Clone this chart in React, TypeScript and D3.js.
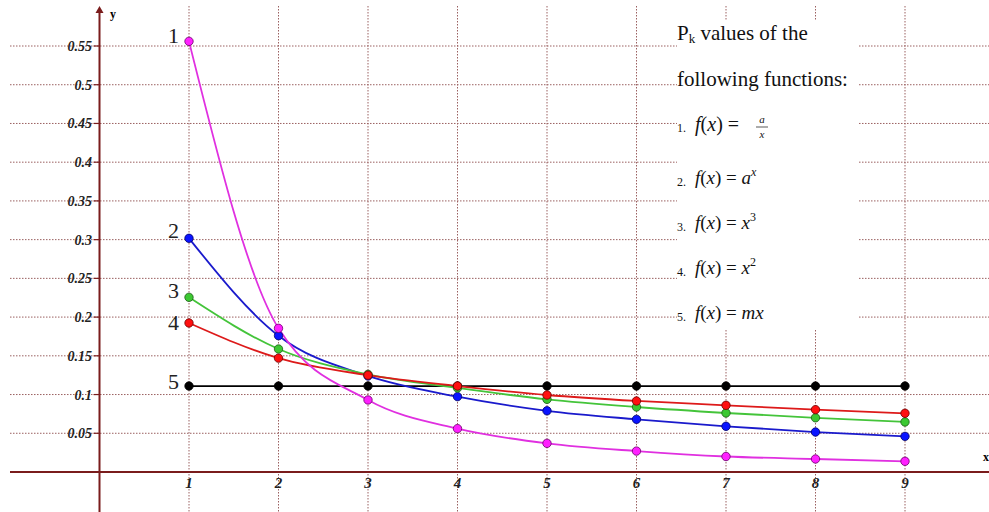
import React from "react";
import * as d3 from "d3";

const xs = [1, 2, 3, 4, 5, 6, 7, 8, 9];
const s1 = [0.556, 0.1855, 0.093, 0.056, 0.037, 0.027, 0.02, 0.0168, 0.0138];
const s2 = [0.3017, 0.176, 0.124, 0.0973, 0.079, 0.068, 0.059, 0.0516, 0.046];
const s3 = [0.2255, 0.1588, 0.126, 0.1085, 0.0938, 0.0839, 0.0762, 0.07, 0.0646];
const s4 = [0.1924, 0.147, 0.125, 0.111, 0.0994, 0.0917, 0.0861, 0.0805, 0.0758];
const s5 = [0.111, 0.111, 0.111, 0.111, 0.111, 0.111, 0.111, 0.111, 0.111];
const yTicks = [0.05, 0.1, 0.15, 0.2, 0.25, 0.3, 0.35, 0.4, 0.45, 0.5, 0.55];
const yTickLabels = ["0.05", "0.1", "0.15", "0.2", "0.25", "0.3", "0.35", "0.4", "0.45", "0.5", "0.55"];
const xTickLabels = ["1", "2", "3", "4", "5", "6", "7", "8", "9"];
const seriesLabels = ["1", "2", "3", "4", "5"];

const series = [
  { id: "5", vals: s5, stroke: "#000000", fill: "#000000", dot: "#000000" },
  { id: "2", vals: s2, stroke: "#1a1acc", fill: "#0a14ff", dot: "#00006a" },
  { id: "3", vals: s3, stroke: "#44c43a", fill: "#3cc832", dot: "#1d5a18" },
  { id: "4", vals: s4, stroke: "#dd1a1a", fill: "#ff1010", dot: "#6a0000" },
  { id: "1", vals: s1, stroke: "#e030e0", fill: "#ff20ff", dot: "#6a006a" },
];

const W = 989;
const H = 512;
const axisColor = "#7a1c1c";
const gridColor = "#9a6060";
const serif = "'Liberation Serif', 'Times New Roman', serif";

export default function App() {
  const x = d3.scaleLinear().domain([0, 9]).range([99.5, 905]);
  const y = d3.scaleLinear().domain([0, 0.55]).range([472, 46]);
  const line = d3
    .line<number>()
    .x((_, i) => x(xs[i]))
    .y((v) => y(v))
    .curve(d3.curveMonotoneX);

  const labelOffsets: Record<string, number> = { "1": -1, "2": -3, "3": -2, "4": 5, "5": 1 };

  return (
    <svg
      width={W}
      height={H}
      style={{ position: "absolute", left: 0, top: 0, background: "#fff" }}
      xmlns="http://www.w3.org/2000/svg"
    >
      <rect x={0} y={0} width={W} height={H} fill="#fff" />
      {/* horizontal grid */}
      {yTicks.map((t) => (
        <line
          key={"hg" + t}
          x1={10}
          x2={W}
          y1={y(t)}
          y2={y(t)}
          stroke={gridColor}
          strokeWidth={1}
          strokeDasharray="1.5,1.5"
        />
      ))}
      {/* vertical grid */}
      {xs.map((t) => (
        <line
          key={"vg" + t}
          x1={x(t)}
          x2={x(t)}
          y1={6}
          y2={H}
          stroke={gridColor}
          strokeWidth={1}
          strokeDasharray="1.5,1.5"
        />
      ))}
      {/* legend box (white) */}
      <rect x={677} y={20} width={181} height={310} fill="#fff" />

      {/* axes */}
      <line x1={10} x2={W} y1={y(0)} y2={y(0)} stroke={axisColor} strokeWidth={2} />
      <line x1={x(0)} x2={x(0)} y1={12} y2={H} stroke={axisColor} strokeWidth={2} />
      <path
        d={`M${x(0)},6 L${x(0) - 4},13 L${x(0) + 4},13 Z`}
        fill={axisColor}
      />
      {yTicks.map((t) => (
        <line
          key={"yt" + t}
          x1={x(0) - 6}
          x2={x(0)}
          y1={y(t)}
          y2={y(t)}
          stroke={axisColor}
          strokeWidth={1.2}
        />
      ))}
      <text x={110} y={18} fontFamily={serif} fontWeight="bold" fontSize={12}>
        y
      </text>
      <text x={983} y={461} fontFamily={serif} fontWeight="bold" fontSize={12}>
        x
      </text>

      {/* tick labels */}
      {yTicks.map((t, i) => (
        <text
          key={"yl" + t}
          x={92}
          y={y(t)}
          dy="0.36em"
          textAnchor="end"
          fontFamily={serif}
          fontWeight="bold"
          fontStyle="italic"
          fontSize={14}
          fill="#222"
        >
          {yTickLabels[i]}
        </text>
      ))}
      {xs.map((t, i) => (
        <text
          key={"xl" + t}
          x={x(t)}
          y={488}
          textAnchor="middle"
          fontFamily={serif}
          fontWeight="bold"
          fontStyle="italic"
          fontSize={15}
          fill="#222"
        >
          {xTickLabels[i]}
        </text>
      ))}

      {/* lines */}
      {series.map((s) => (
        <path
          key={"l" + s.id}
          d={line(s.vals) || ""}
          fill="none"
          stroke={s.stroke}
          strokeWidth={1.8}
        />
      ))}
      {/* dots */}
      {series.map((s) =>
        s.vals.map((v, i) => (
          <circle
            key={"c" + s.id + i}
            cx={x(xs[i])}
            cy={y(v)}
            r={4.2}
            fill={s.fill}
            stroke={s.dot}
            strokeWidth={0.8}
          />
        ))
      )}
      {/* series number labels */}
      {series.map((s) => {
        const idx = seriesLabels.indexOf(s.id);
        return (
          <text
            key={"sl" + s.id}
            x={x(1) - 10}
            y={y(s.vals[0]) + labelOffsets[s.id]}
            dy="0.1em"
            textAnchor="end"
            fontFamily={serif}
            fontSize={22}
            fill="#222"
          >
            {seriesLabels[idx]}
          </text>
        );
      })}

      {/* legend text */}
      <g fontFamily={serif} fill="#111">
        <text x={677} y={40} fontSize={21}>
          P<tspan fontSize={13} dy={3}>k</tspan>
          <tspan dy={-3}> values of the</tspan>
        </text>
        <text x={677} y={86} fontSize={21}>
          following functions:
        </text>

        <text x={677} y={132} fontSize={12}>1.</text>
        <text x={695} y={131} fontSize={20}>
          <tspan fontStyle="italic">f</tspan>(<tspan fontStyle="italic">x</tspan>) =
        </text>
        <text x={762} y={123} fontSize={11} fontStyle="italic" textAnchor="middle">a</text>
        <line x1={756} x2={768} y1={127} y2={127} stroke="#111" strokeWidth={0.7} />
        <text x={762} y={138} fontSize={11} fontStyle="italic" textAnchor="middle">x</text>

        <text x={677} y={186} fontSize={12}>2.</text>
        <text x={695} y={184} fontSize={19}>
          <tspan fontStyle="italic">f</tspan>(<tspan fontStyle="italic">x</tspan>) = <tspan fontStyle="italic">a</tspan>
          <tspan fontStyle="italic" fontSize={12} dy={-8}>x</tspan>
        </text>

        <text x={677} y={231} fontSize={12}>3.</text>
        <text x={695} y={229} fontSize={19}>
          <tspan fontStyle="italic">f</tspan>(<tspan fontStyle="italic">x</tspan>) = <tspan fontStyle="italic">x</tspan>
          <tspan fontSize={12} dy={-8}>3</tspan>
        </text>

        <text x={677} y={276} fontSize={12}>4.</text>
        <text x={695} y={274} fontSize={19}>
          <tspan fontStyle="italic">f</tspan>(<tspan fontStyle="italic">x</tspan>) = <tspan fontStyle="italic">x</tspan>
          <tspan fontSize={12} dy={-8}>2</tspan>
        </text>

        <text x={677} y={321} fontSize={12}>5.</text>
        <text x={695} y={319} fontSize={19}>
          <tspan fontStyle="italic">f</tspan>(<tspan fontStyle="italic">x</tspan>) = <tspan fontStyle="italic">mx</tspan>
        </text>
      </g>
    </svg>
  );
}
